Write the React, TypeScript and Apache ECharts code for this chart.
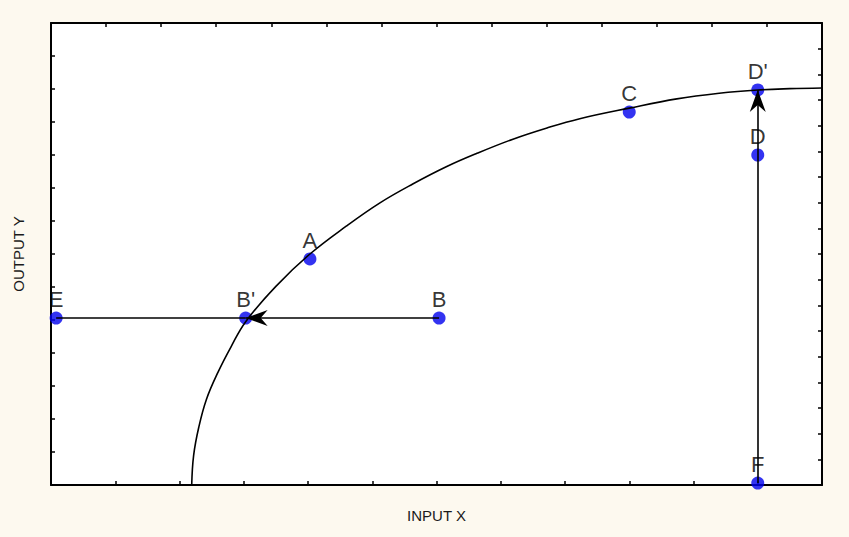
import React, { useEffect, useRef } from "react";
import * as echarts from "echarts";

// Curve (production possibility frontier)
const curveX = [2.19, 2.22, 2.3, 2.42, 2.6, 2.8, 3.03, 3.5, 4.03, 4.6, 5.12, 5.63, 6.16, 6.63, 7.19, 7.72, 8.23, 9.0, 9.74, 10.4, 11.0, 11.5, 12.0];
const curveY = [0.0, 0.9, 1.75, 2.6, 3.42, 4.18, 4.95, 6.02, 7.0, 7.85, 8.55, 9.12, 9.65, 10.05, 10.48, 10.82, 11.1, 11.42, 11.7, 11.87, 11.97, 12.01, 12.03];

// Labelled points
const pointNames = ["E", "B'", "B", "A", "C", "D'", "D", "F"];
const pointX = [0.08, 3.03, 6.04, 4.03, 9.0, 11.0, 11.0, 11.0];
const pointY = [5.06, 5.06, 5.06, 6.85, 11.3, 11.97, 10.0, 0.06];

// Segments: [from, to, arrow at end]
const segFrom = ["E", "B", "F"];
const segTo = ["B'", "B'", "D'"];
const segArrow = [false, true, true];

const xTicksBottom = 12;
const xTicksTop = 14;
const yTicksLeft = 14;
const yTicksRight = 18;

export default function App() {
  const ref = useRef<HTMLDivElement>(null);
  useEffect(() => {
    if (!ref.current) return;
    const chart = echarts.init(ref.current, undefined, { renderer: "svg" });
    const pt = (n: string) => {
      const i = pointNames.indexOf(n);
      return [pointX[i], pointY[i]];
    };
    const arrowPath = "path://M10,0 L20,22 L10,15 L0,22 Z";
    const font = "Liberation Sans, Arial, sans-serif";
    const axisCommon = {
      type: "value",
      axisLine: { show: true, onZero: false, lineStyle: { color: "#000", width: 2 } },
      axisTick: { show: true, inside: true, length: 4, lineStyle: { color: "#000", width: 1.5 } },
      axisLabel: { show: false },
      splitLine: { show: false },
    };
    chart.setOption({
      animation: false,
      backgroundColor: "#fdf9ef",
      grid: {
        left: 51,
        top: 23,
        right: 27,
        bottom: 52,
        show: true,
        backgroundColor: "#fff",
        borderWidth: 0,
        containLabel: false,
        outerBoundsMode: "none",
      },
      xAxis: [
        {
          ...axisCommon,
          position: "bottom",
          min: 0,
          max: xTicksBottom,
          interval: 1,
          name: "INPUT X",
          nameLocation: "middle",
          nameGap: 23,
          nameTextStyle: { fontFamily: font, fontSize: 15, color: "#1a1a1a" },
        },
        { ...axisCommon, position: "top", min: 0, max: xTicksTop, interval: 1 },
      ],
      yAxis: [
        {
          ...axisCommon,
          position: "left",
          min: 0,
          max: yTicksLeft,
          interval: 1,
          name: "OUTPUT Y",
          nameLocation: "middle",
          nameGap: 25,
          nameRotate: 90,
          nameTextStyle: { fontFamily: font, fontSize: 15, color: "#1a1a1a" },
        },
        { ...axisCommon, position: "right", min: 0, max: yTicksRight, interval: 1 },
      ],
      series: [
        {
          type: "scatter",
          z: 2,
          symbol: "circle",
          symbolSize: 13,
          itemStyle: { color: "#0000ee" },
          data: pointNames.map((n, i) => ({ name: n, value: [pointX[i], pointY[i]] })),
          label: {
            show: true,
            position: "top",
            distance: 1,
            formatter: (p: any) => p.name,
            fontFamily: font,
            fontSize: 22,
            color: "#000",
          },
        },
        {
          type: "line",
          z: 3,
          showSymbol: false,
          symbol: "none",
          smooth: 0.4,
          lineStyle: { color: "#000", width: 1.6 },
          data: curveX.map((x, i) => [x, curveY[i]]),
          markLine: {
            silent: true,
            animation: false,
            label: { show: false },
            lineStyle: { color: "#000", width: 1.6, type: "solid" },
            symbolSize: [16, 22],
            data: segFrom.map((f, i) => [
              { coord: pt(f), symbol: "none" },
              { coord: pt(segTo[i]), symbol: segArrow[i] ? arrowPath : "none", symbolOffset: [0, 11] },
            ]),
          },
        },
      ],
    });
    return () => chart.dispose();
  }, []);
  return <div ref={ref} style={{ position: "fixed", left: 0, top: 0, width: 849, height: 537 }} />;
}
